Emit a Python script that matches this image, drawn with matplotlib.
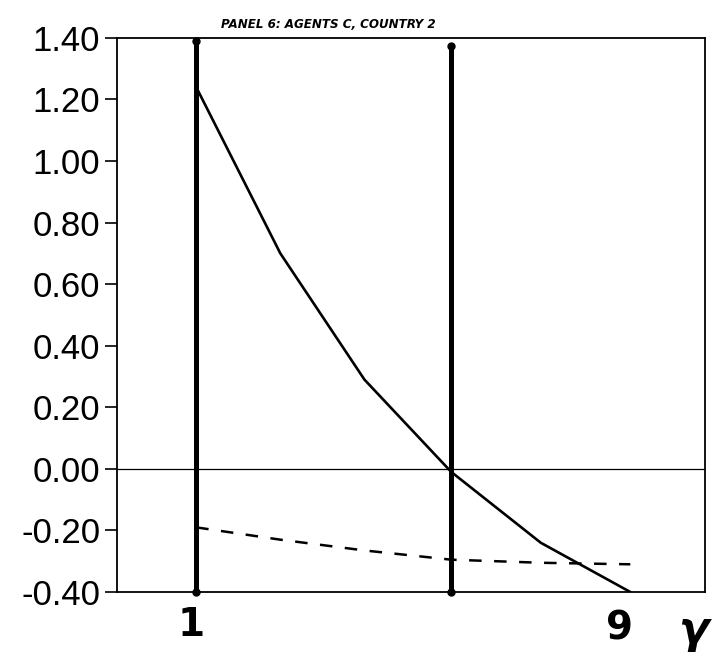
import numpy as np
import matplotlib.pyplot as plt
import matplotlib.transforms as mtransforms

# gamma grid and the two curves
gamma = [1, 2.55, 4.1, 5.7, 7.35, 9]
solid_vals = [1.24, 0.70, 0.29, -0.01, -0.24, -0.40]
dashed_vals = [-0.19, -0.23, -0.265, -0.295, -0.305, -0.31]
# thick vertical markers
vline_x = [1, 5.7]
vline_top = [1.39, 1.375]
yticks = [-0.40, -0.20, 0.00, 0.20, 0.40, 0.60, 0.80, 1.00, 1.20, 1.40]
title = "PANEL 6: AGENTS C, COUNTRY 2"

fig = plt.figure(figsize=(7.22, 6.52), dpi=100)
ax = fig.add_axes([0.162, 0.092, 0.814, 0.850])

ax.plot(gamma, solid_vals, color="black", lw=1.9, solid_joinstyle="round")
ax.plot(gamma, dashed_vals, color="black", lw=1.8, dashes=(5, 5))
ax.axhline(0, color="black", lw=0.9)

for xv, top in zip(vline_x, vline_top):
    ax.plot([xv, xv], [-0.40, top], color="black", lw=3.6,
            solid_capstyle="round", clip_on=False)
    ax.plot([xv, xv], [-0.40, top], "o", color="black", ms=5, clip_on=False)

ax.set_xlim(-0.46, 10.37)
ax.set_ylim(-0.40, 1.40)
ax.set_yticks(yticks)
ax.set_yticklabels([f"{v:.2f}" for v in yticks], fontsize=25,
                   family=["Liberation Sans", "DejaVu Sans"])
ax.tick_params(axis="y", length=9, width=1.2, pad=3)
ax.set_xticks([])
for s in ax.spines.values():
    s.set_linewidth(1.3)

# handwritten x labels
trans = mtransforms.blended_transform_factory(ax.transData, ax.transAxes)
ax.text(0.9, -0.06, "1", transform=trans, ha="center", va="center",
        fontsize=28, fontweight="bold")
ax.text(8.8, -0.065, "9", transform=trans, ha="center", va="center",
        fontsize=28, fontweight="bold")
ax.text(10.15, -0.07, "γ", transform=trans, ha="center", va="center",
        fontsize=32, fontweight="bold", style="italic")

ax.text(0.36, 1.012, title, transform=ax.transAxes, ha="center", va="bottom",
        fontsize=9.5, fontweight="bold", style="italic", fontstretch="condensed",
        family=["DejaVu Sans"])

fig.savefig("out.png", dpi=100)
